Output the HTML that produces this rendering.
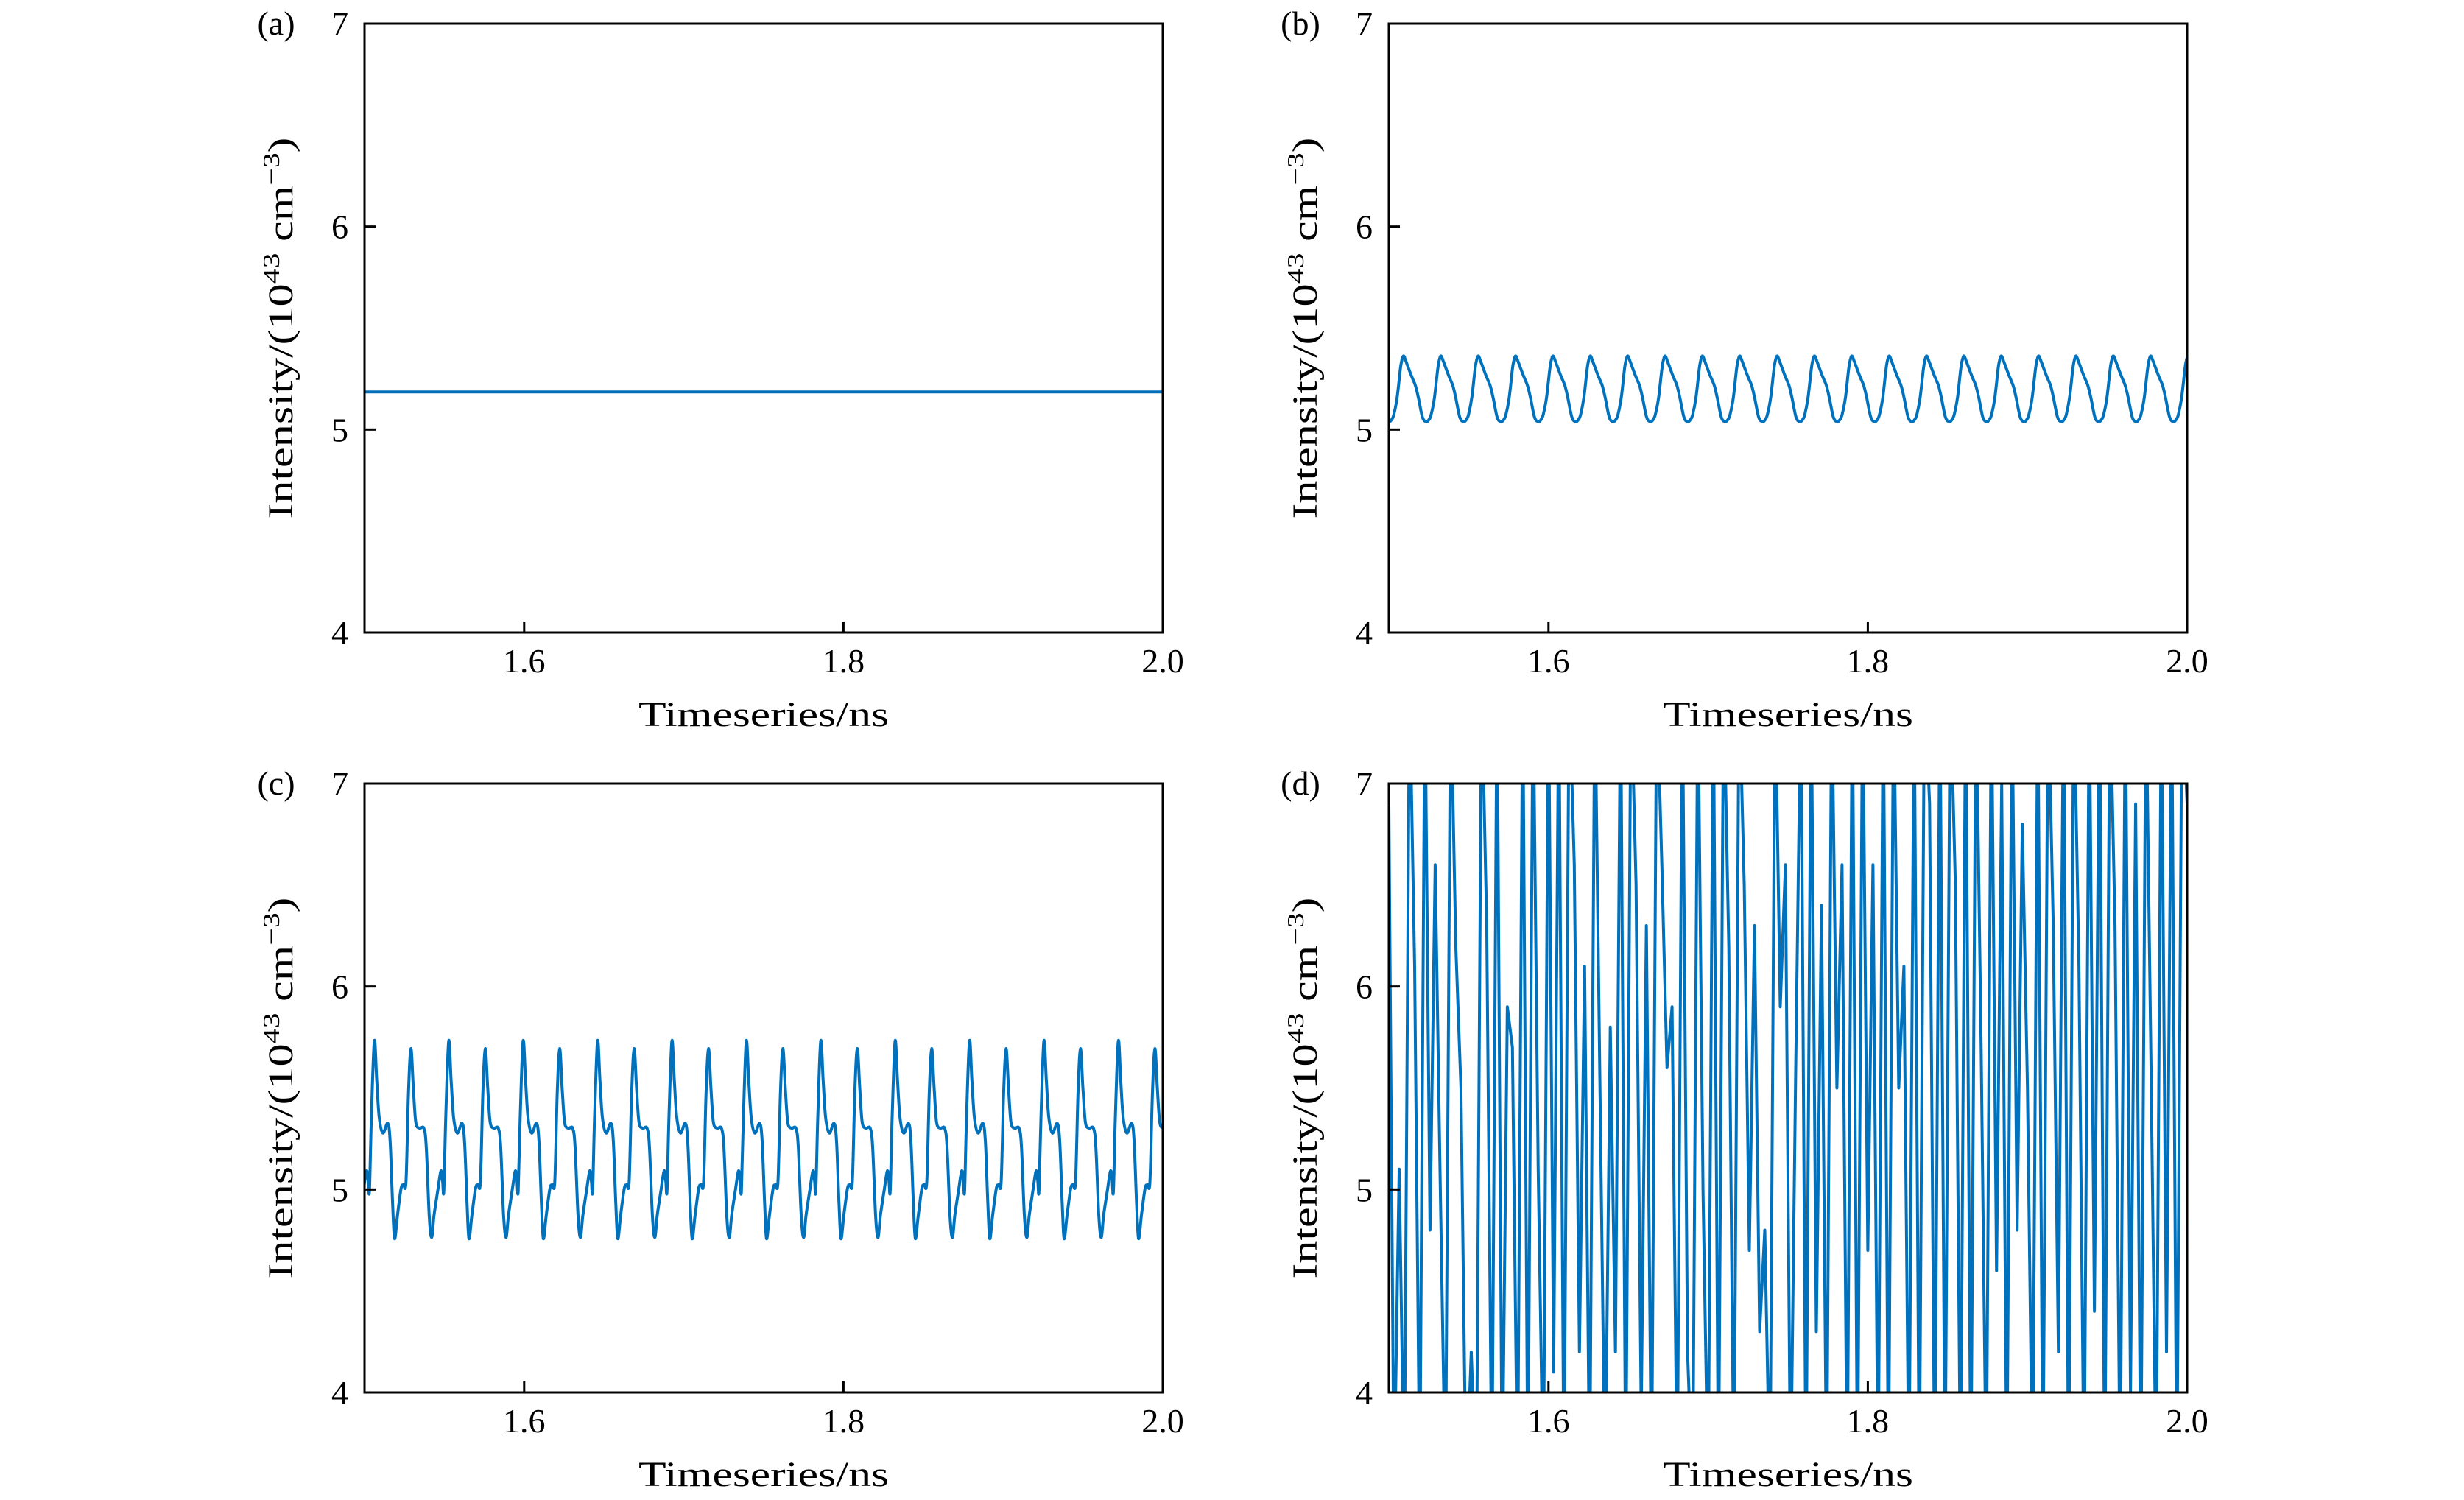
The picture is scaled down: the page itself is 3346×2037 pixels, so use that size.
<!DOCTYPE html>
<html><head><meta charset="utf-8">
<style>
html,body{margin:0;padding:0;background:#fff;}
svg{display:block;}
text{font-family:"Liberation Serif","DejaVu Serif",serif;fill:#000;}
</style></head>
<body>
<svg id="fig" width="3346" height="2037" viewBox="0 0 3346 2037" xmlns="http://www.w3.org/2000/svg"></svg>
<script>
// ---- data ----
const xTicks = [1.6, 1.8, 2.0];
const xTickLabels = ["1.6", "1.8", "2.0"];
const yTicks = [4, 5, 6, 7];
const yTickLabels = ["4", "5", "6", "7"];
const panelLabels = ["(a)", "(b)", "(c)", "(d)"];
// (a) steady state level
const aLevel = 5.185;
// (b) one period waveform: phase fraction and value
const bPeriod = 0.0234;
const bStart = 1.50937;
const bPhase = [0, 0.05, 0.2, 0.31, 0.39, 0.5, 0.6, 0.67, 0.73, 0.82, 0.91, 0.96, 1];
const bValues = [5.362, 5.34, 5.266, 5.217, 5.157, 5.06, 5.039, 5.048, 5.072, 5.157, 5.302, 5.35, 5.362];
// (c) period-2 waveform (two cycles)
const cPeriod2 = 0.0466;
const cStart = 1.50613;
const cPhase = [0,10,20,35,55,65,75,83,95,110,120,130,140,150,160,170,185,203,213,225,235,245,260,273,280,285,293,305].map(v=>v/305);
const cValues = [5.731,5.537,5.356,5.278,5.326,5.236,4.934,4.758,4.873,5.006,5.024,5.042,5.477,5.694,5.501,5.332,5.302,5.302,5.211,4.873,4.764,4.873,4.994,5.091,5.042,4.994,5.356,5.731];
// (d) chaotic series: successive extremes, evenly spaced in time over 1.5–2.0 ns
const dValues = [6.9,3.5,5.1,3.5,7.5,6.1,3.5,7.5,4.8,6.6,5.0,3.5,7.5,6.2,5.5,3.5,4.2,3.5,7.5,6.3,3.5,7.5,3.5,5.9,5.7,3.5,7.5,3.5,7.5,5.1,3.5,7.5,4.1,7.5,3.5,7.5,6.6,4.2,6.1,3.5,7.5,5.5,3.5,5.8,4.2,7.5,3.5,7.5,6.5,3.9,6.3,3.5,7.5,6.6,5.6,5.9,3.5,7.5,4.2,3.5,7.5,5.0,3.5,7.5,3.5,7.5,6.2,3.5,7.5,6.5,4.7,6.3,4.3,4.8,3.5,7.5,5.9,6.6,3.5,5.6,7.5,3.5,7.5,4.3,6.4,3.5,7.5,5.5,6.6,3.5,7.5,3.5,7.5,4.7,6.6,3.5,7.5,3.5,7.5,5.5,6.1,3.5,7.5,3.5,7.5,6.9,3.5,7.5,3.5,7.5,6.5,3.5,7.5,3.5,7.5,5.7,3.5,7.5,4.6,7.0,3.5,7.5,4.8,6.8,5.5,3.5,7.5,3.5,7.5,6.3,4.2,7.5,3.5,7.5,6.1,3.5,7.5,4.4,7.5,3.5,7.5,6.3,3.5,7.5,4.0,6.9,3.5,7.5,5.6,3.5,7.5,4.2,7.5,3.5,7.5,6.9];

// ---- layout ----
const NS = "http://www.w3.org/2000/svg";
const svg = document.getElementById("fig");
const W = 1084, H = 827;
const panels = [{x:495,y:32},{x:1886,y:32},{x:495,y:1064},{x:1886,y:1064}];
const X0 = 1.5, X1 = 2.0, Y0 = 4, Y1 = 7;
function mk(tag, attrs, parent){const e=document.createElementNS(NS,tag);for(const k in attrs)e.setAttribute(k,attrs[k]);(parent||svg).appendChild(e);return e;}

function buildSeries(idx){
  const pts=[];
  if(idx===0){pts.push([1.5,aLevel],[2.0,aLevel]);}
  else if(idx===1){
    for(let k=-1;bStart+k*bPeriod<=2.0+bPeriod;k++)
      for(let i=0;i<bPhase.length-1;i++) pts.push([bStart+(k+bPhase[i])*bPeriod,bValues[i]]);
  } else if(idx===2){
    for(let k=-1;cStart+k*cPeriod2<=2.0+cPeriod2;k++)
      for(let i=0;i<cPhase.length-1;i++) pts.push([cStart+(k+cPhase[i])*cPeriod2,cValues[i]]);
  } else {
    const n=dValues.length;
    for(let i=0;i<n;i++) pts.push([X0+(X1-X0)*i/(n-1),dValues[i]]);
  }
  return pts;
}
function smoothPath(P){
  let d="M"+P[0][0].toFixed(1)+","+P[0][1].toFixed(1);
  for(let i=0;i<P.length-1;i++){
    const p0=P[Math.max(0,i-1)],p1=P[i],p2=P[i+1],p3=P[Math.min(P.length-1,i+2)];
    const c1=[p1[0]+(p2[0]-p0[0])/6,p1[1]+(p2[1]-p0[1])/6];
    const c2=[p2[0]-(p3[0]-p1[0])/6,p2[1]-(p3[1]-p1[1])/6];
    d+=" C"+c1[0].toFixed(1)+","+c1[1].toFixed(1)+" "+c2[0].toFixed(1)+","+c2[1].toFixed(1)+" "+p2[0].toFixed(1)+","+p2[1].toFixed(1);
  }
  return d;
}

panels.forEach((p,idx)=>{
  const sx=v=>p.x+(v-X0)/(X1-X0)*W;
  const sy=v=>p.y+H-(v-Y0)/(Y1-Y0)*H;
  const g=mk("g",{});
  
  
  const cp=mk("clipPath",{id:"clip"+idx},g);
  mk("rect",{x:p.x,y:p.y,width:W,height:H},cp);
  // series
  const P=buildSeries(idx).map(q=>[sx(q[0]),sy(q[1])]);
  let line;
  if(idx===1||idx===2){
    line=mk("path",{d:smoothPath(P),fill:"none",stroke:"#0072BD","stroke-width":4,"stroke-linejoin":"round","clip-path":"url(#clip"+idx+")"},g);
  } else {
    line=mk("polyline",{points:P.map(q=>q[0].toFixed(1)+","+q[1].toFixed(1)).join(" "),fill:"none",stroke:"#0072BD","stroke-width":4,"stroke-linejoin":"round","clip-path":"url(#clip"+idx+")"},g);
  }
  
  
  // frame
  const fr=mk("rect",{x:p.x,y:p.y,width:W,height:H,fill:"none",stroke:"#000","stroke-width":3},g);
  
  
  // x ticks
  xTicks.forEach((t,i)=>{
    const x=sx(t);
    const tk=mk("line",{x1:x,y1:p.y+H,x2:x,y2:p.y+H-15,stroke:"#000","stroke-width":3},g);
    
    
    const tl=mk("text",{x:x,y:p.y+H+54,"font-size":46,"text-anchor":"middle"},g);
    tl.textContent=xTickLabels[i];
    
    
  });
  // y ticks
  yTicks.forEach((t,i)=>{
    const y=sy(t);
    const tk=mk("line",{x1:p.x,y1:y,x2:p.x+15,y2:y,stroke:"#000","stroke-width":3},g);
    
    
    const tl=mk("text",{x:p.x-22,y:y+16,"font-size":46,"text-anchor":"end"},g);
    tl.textContent=yTickLabels[i];
    
    
  });
  // x axis title
  const xt=mk("text",{x:p.x+W/2,y:p.y+H+127,"font-size":48,"text-anchor":"middle",textLength:340,lengthAdjust:"spacingAndGlyphs"},g);
  xt.textContent="Timeseries/ns";
  
  
  // y axis title
  const yt=mk("text",{x:0,y:0,"font-size":48,"text-anchor":"middle",textLength:518,lengthAdjust:"spacingAndGlyphs",transform:"translate("+(p.x-98)+","+(p.y+H/2)+") rotate(-90)"},g);
  
  
  yt.appendChild(document.createTextNode("Intensity/(10"));
  const s1=mk("tspan",{"font-size":32,dy:-18},yt); s1.textContent="43";
  const s2=mk("tspan",{dy:18},yt); s2.textContent=" cm";
  const s3=mk("tspan",{"font-size":32,dy:-18},yt); s3.textContent="−3";
  const s4=mk("tspan",{dy:18},yt); s4.textContent=")";
  // panel label
  const pl=mk("text",{x:p.x-120,y:p.y+15,"font-size":46,"text-anchor":"middle"},g);
  pl.textContent=panelLabels[idx];
  
  
});
</script>
</body></html>
